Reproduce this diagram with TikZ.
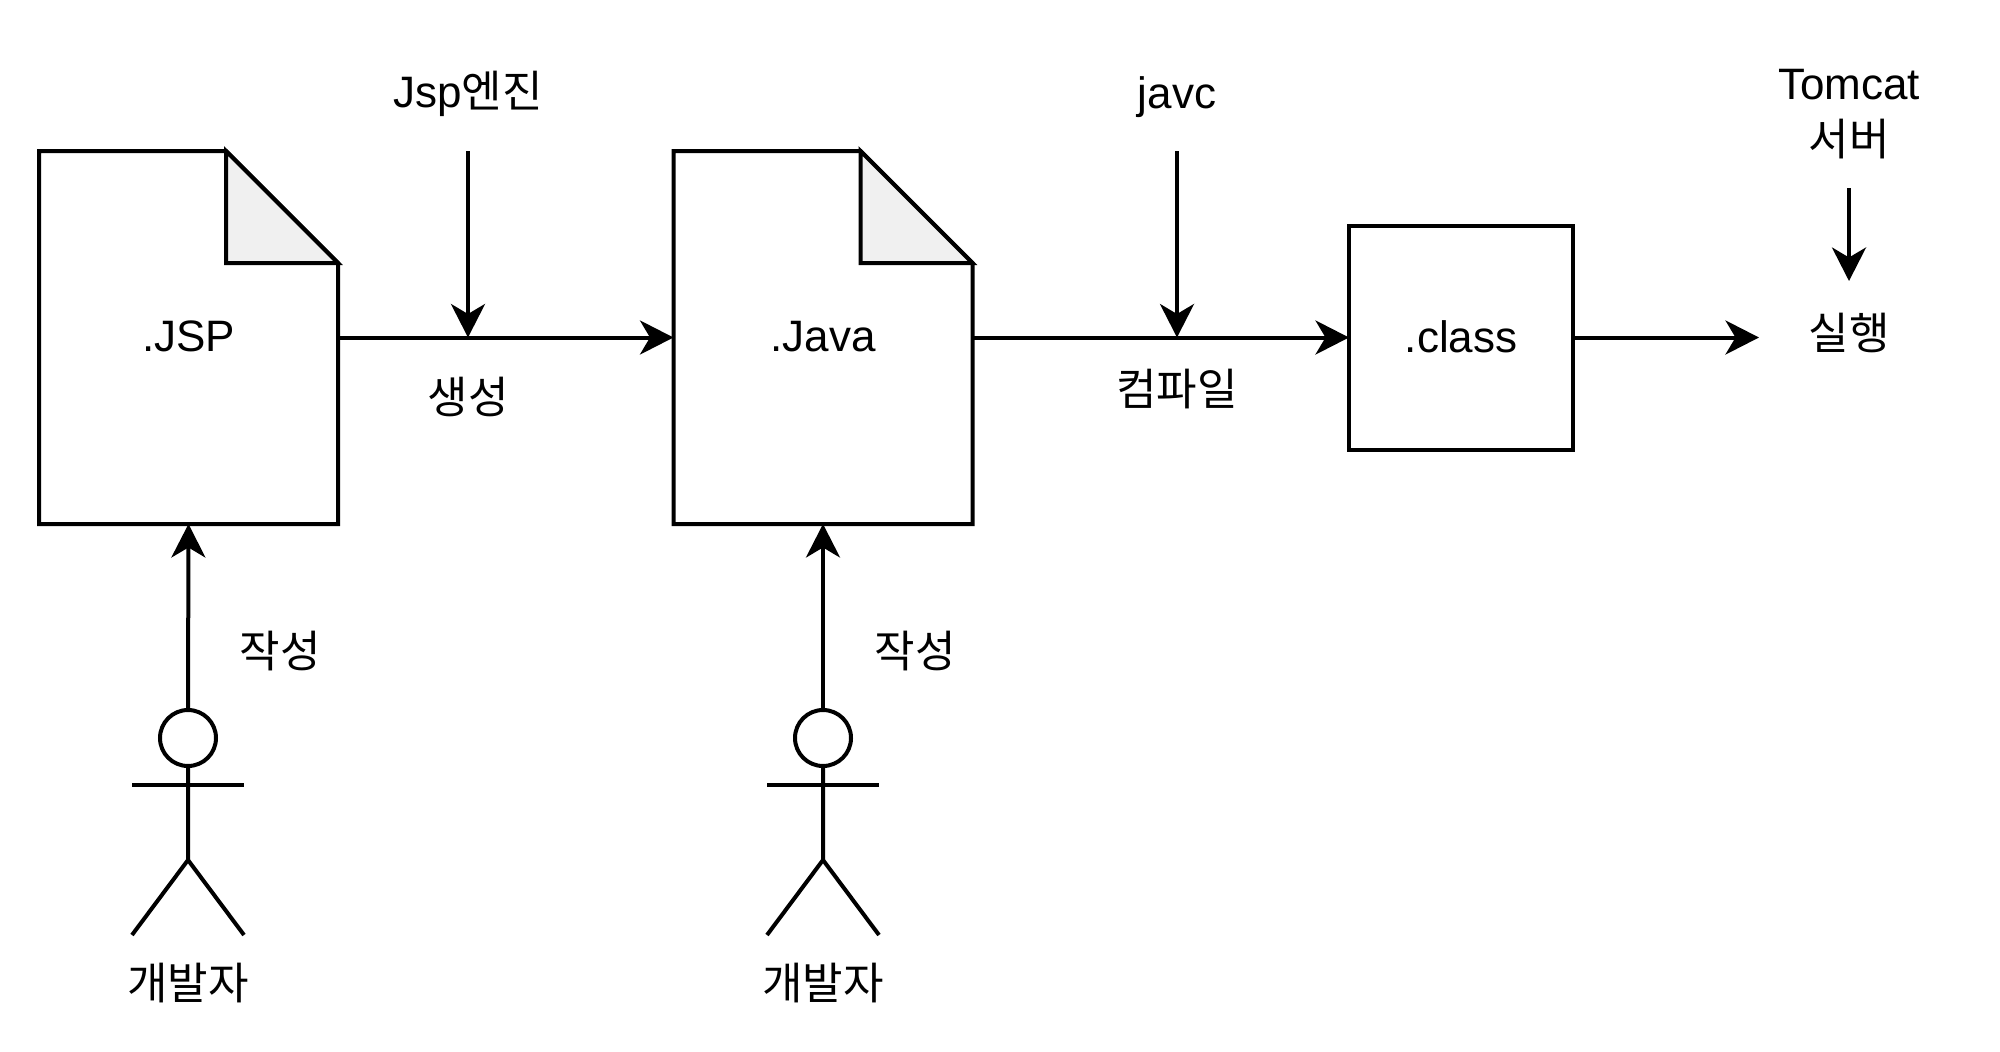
\documentclass[tikz,border=0pt]{standalone}
\usepackage{fontspec}
\setmainfont{Liberation Sans}
\newfontfamily\kr{Noto Sans CJK KR}
\usetikzlibrary{arrows.meta}
\tikzset{
  x=1pt,y=-1pt,
  ln/.style={line width=4pt,draw=black,line join=miter},
  arr/.style={ln,-{Stealth[length=33.5pt,width=34pt,inset=10pt]}},
  lbl/.style={font=\fontsize{44}{56}\selectfont,inner sep=0pt,outer sep=0pt,align=center,text=black},
  docbody/.style={lbl,minimum width=299pt,minimum height=373pt},
  classbox/.style={lbl,ln,minimum width=224pt,minimum height=224pt},
  headc/.style={ln,circle,inner sep=0pt,outer sep=0pt,minimum size=56pt},
}
\newcommand{\docshape}[1]{%
  \coordinate (#1-fa) at ([xshift=-112pt]#1.north east);
  \coordinate (#1-fb) at ([yshift=-112pt]#1.north east);
  \coordinate (#1-fc) at (#1-fa |- #1-fb);
  \draw[ln,line join=miter] (#1.north west) -- (#1-fa) -- (#1-fb) -- (#1.south east) -- (#1.south west) -- cycle;
  \draw[ln,fill=black!6] (#1-fa) -- (#1-fb) -- (#1-fc) -- cycle;
}
\newcommand{\actorshape}[1]{%
  \coordinate (#1-arml) at ([xshift=-56pt,yshift=-47pt]#1.center);
  \coordinate (#1-armr) at ([xshift=56pt,yshift=-47pt]#1.center);
  \coordinate (#1-arm) at ([yshift=-47pt]#1.center);
  \coordinate (#1-hip) at ([yshift=-122pt]#1.center);
  \coordinate (#1-fl) at ([xshift=-56pt,yshift=-197pt]#1.center);
  \coordinate (#1-fr) at ([xshift=56pt,yshift=-197pt]#1.center);
  \draw[ln] (#1.south) -- (#1-hip) -- (#1-fl);
  \draw[ln] (#1-hip) -- (#1-fr);
  \draw[ln] (#1-arml) -- (#1-armr);
}
\begin{document}
\begin{tikzpicture}
\useasboundingbox (0,0) rectangle (2000,1052);
\fill[white] (0,0) rectangle (2000,1052);
% documents
\node[docbody] (jsp) at (188.5,337.5) {\raisebox{2.5pt}{.JSP}};
\node[docbody] (java) at (823,337.5) {\raisebox{2.5pt}{.Java}};
\docshape{jsp}
\docshape{java}
\node[classbox] (cls) at (1461,337.5) {\raisebox{2.5pt}{.class}};
% actors
\node[headc] (head1) at (188,738) {};
\node[headc] (head2) at (823,738) {};
\actorshape{head1}
\actorshape{head2}
% labels
\node[lbl] (dev1) at (188,983) {\kr 개발자};
\node[lbl] (dev2) at (823,983) {\kr 개발자};
\node[lbl] (wr1) at (280,651) {\kr 작성};
\node[lbl] (wr2) at (915,651) {\kr 작성};
\node[lbl] (engine) at (468,94) {Jsp{\kr 엔진}};
\node[lbl] (gen) at (468,397) {\kr 생성};
\node[lbl] (javac) at (1177,97) {javc};
\node[lbl] (comp) at (1177,389) {\kr 컴파일};
\node[lbl] (tomcat) at (1849,85) {Tomcat};
\node[lbl] (server) at (1849,139) {\kr 서버};
\node[lbl] (run) at (1849,333) {\kr 실행};
% free ends
\coordinate (c-eng) at (468,151);
\coordinate (c-engtip) at (468,337.5);
\coordinate (c-jav) at (1177,151);
\coordinate (c-javtip) at (1177,337.5);
\coordinate (c-tom) at (1849,188);
\coordinate (c-tomtip) at (1849,281);
\coordinate (c-runtip) at (1759,337.5);
% connectors
\draw[arr] (jsp.east) -- (java.west);
\draw[arr] (java.east) -- (cls.west);
\draw[arr] (cls.east) -- (c-runtip);
\draw[arr] (c-eng) -- (c-engtip);
\draw[arr] (c-jav) -- (c-javtip);
\draw[arr] (c-tom) -- (c-tomtip);
\draw[arr] (head1.north) -- (jsp.south);
\draw[arr] (head2.north) -- (java.south);
\end{tikzpicture}
\end{document}
